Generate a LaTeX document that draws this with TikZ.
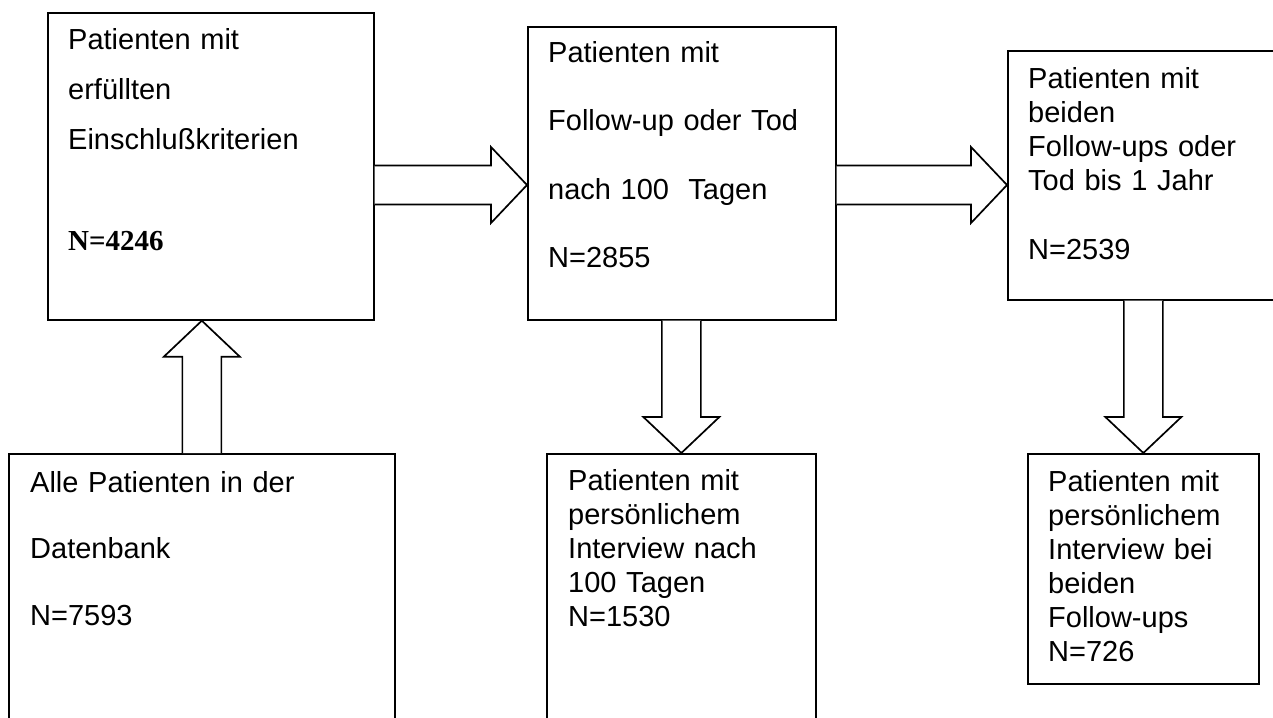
\documentclass[tikz,border=0pt]{standalone}
\usepackage{fontspec}
\setmainfont{Liberation Sans}
\newfontfamily\serifbold{Liberation Serif}
\usepackage{tikz}
\usetikzlibrary{positioning, calc}

% hollow block arrow from #1 (shaft end) to #2 (tip)
\newcommand{\fatarrow}[2]{%
  \coordinate (hb) at ($(#2)!36pt!(#1)$);
  \draw[fatline]
    ($(#1)!19.5pt!90:(#2)$) -- ($(hb)!19.5pt!90:(#2)$) -- ($(hb)!38pt!90:(#2)$)
    -- (#2)
    -- ($(hb)!38pt!-90:(#2)$) -- ($(hb)!19.5pt!-90:(#2)$) -- ($(#1)!19.5pt!-90:(#2)$);
}

\begin{document}
\begin{tikzpicture}[
  x=1pt, y=-1pt,
  box/.style={draw, line width=1.7pt, anchor=north west, inner sep=0pt},
  txt/.style={anchor=base west, inner sep=0pt, align=left, text width=300pt,
    font=\fontsize{29}{34}\selectfont},
  fatline/.style={draw, line width=1.7pt, fill=white, line join=miter},
]
\useasboundingbox (0,0) rectangle (1273,717);

% ---- Top row ----
\node[box, minimum width=326pt, minimum height=307pt] (incl) at (47,12) {};
\node[box, minimum width=308pt, minimum height=293pt] (fu100) at (527,26) {};
\node[box, minimum width=270pt, minimum height=249pt] (fu1y) at (1007,50) {};

\node[txt] (incl_txt) at ($(incl.north west)+(21,38)$)
  {Patienten mit\\[16pt] erfüllten\\[16pt] Einschlußkriterien\\[66pt]
   {\serifbold\bfseries N=4246}};
\node[txt] (fu100_txt) at ($(fu100.north west)+(21,37)$)
  {Patienten mit\\[34pt] Follow-up oder Tod\\[34pt] nach 100~ Tagen\\[34pt] N=2855};
\node[txt] (fu1y_txt) at ($(fu1y.north west)+(21,38)$)
  {Patienten mit\\ beiden\\ Follow-ups oder\\ Tod bis 1 Jahr\\[35pt] N=2539};

% ---- Bottom row ----
\node[box, minimum width=386pt, minimum height=300pt] (db) at (8,453) {};
\node[box, minimum width=269pt, minimum height=300pt] (int100) at (546,453) {};
\node[box, minimum width=231pt, minimum height=230pt] (intboth) at (1027,453) {};

\node[txt] (db_txt) at ($(db.north west)+(22,39)$)
  {Alle Patienten in der\\[32pt] Datenbank\\[33pt] N=7593};
\node[txt] (int100_txt) at ($(int100.north west)+(22,37)$)
  {Patienten mit\\ persönlichem\\ Interview nach\\ 100 Tagen\\ N=1530};
\node[txt] (intboth_txt) at ($(intboth.north west)+(21,38)$)
  {Patienten mit\\ persönlichem\\ Interview bei\\ beiden\\ Follow-ups\\ N=726};

% ---- Block arrows ----
\fatarrow{incl.east |- 0,185}{fu100.west |- 0,185}
\fatarrow{fu100.east |- 0,185}{fu1y.west |- 0,185}
\fatarrow{db.north}{db.north |- incl.south}
\fatarrow{int100.north |- fu100.south}{int100.north}
\fatarrow{intboth.north |- fu1y.south}{intboth.north}

\end{tikzpicture}
\end{document}
